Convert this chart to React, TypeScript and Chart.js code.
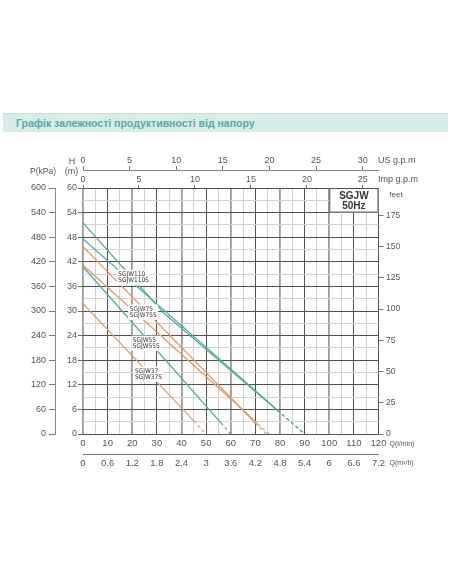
import React, { useEffect, useRef } from "react";
import { Chart, registerables } from "chart.js";
Chart.register(...registerables);

// ---------- data ----------
const titleText = "Графік залежності продуктивності від напору";

// curve points: flow Q (l/min) and head H (m)
const q110 = [0, 33, 79, 90];
const h110 = [51.5, 29.4, 5.7, 0];
const q110S = [0, 79, 90];
const h110S = [47.6, 5.8, 0];
const q75 = [0, 65, 70, 74.5];
const h75 = [45.7, 5.8, 2.6, 0];
const q75S = [0, 66, 71, 75.5];
const h75S = [41.2, 5.3, 2.4, 0];
const q55 = [0, 56, 60];
const h55 = [40.8, 2.7, 0];
const q37 = [0, 45, 50];
const h37 = [31.8, 3.2, 0];

const curveQ = [q110, q110S, q75, q75S, q55, q37];
const curveH = [h110, h110S, h75, h75S, h55, h37];
const curveKind = ["teal", "teal", "orange", "orange", "teal", "orange"];
const curveDashFrom = [79, 79, 70, 71, 56, 45];

const labelTexts = [
  ["SGJW110", "SGJW110S"],
  ["SGJW75", "SGJW75S"],
  ["SGJW55", "SGJW55S"],
  ["SGJW37", "SGJW37S"],
];
const labelQ = [14.3, 19, 20.2, 21.1];
const labelH = [38.95, 30.5, 22.9, 15.4];

const modelBoxText = ["SGJW", "50Hz"];

// axis ranges
const qMax = 120; // l/min
const hMax = 60; // m
const pMax = 600; // kPa
const m3Max = 7.2; // m3/h
const usMax = 120 / 3.785411784;
const impMax = 120 / 4.54609;
const feetMax = 60 * 3.28084;

// ---------- styles ----------
const TEAL = "#48ab9a";
const ORANGE = "#e6975a";
const TXT = "#555";
const DARK = "#505050";
const LIGHT = "#d2d2d2";
const FONT = '"Liberation Sans", Arial, sans-serif';

export default function App() {
  const ref = useRef<HTMLCanvasElement | null>(null);

  useEffect(() => {
    if (!ref.current) return;
    Chart.defaults.font.family = FONT;
    Chart.defaults.color = TXT;

    const datasets = curveQ.map((qs, i) => ({
      label: String(i),
      data: qs.map((q, j) => ({ x: q, y: curveH[i][j] })),
      borderColor: curveKind[i] === "teal" ? TEAL : ORANGE,
      borderWidth: 1.2,
      pointRadius: 0,
      tension: 0,
      fill: false,
      xAxisID: "x",
      yAxisID: "y",
      segment: {
        borderDash: (ctx: any) =>
          ctx.p0.parsed.x >= curveDashFrom[i] - 0.01 ? [3, 3] : undefined,
      },
    }));

    const overlay = {
      id: "overlay",
      afterDatasetsDraw(chart: any) {
        const c = chart.ctx;
        const xs = chart.scales.x;
        const ys = chart.scales.y;
        c.save();
        // curve labels with white boxes
        c.font = `6.5px "Liberation Sans Narrow", "DejaVu Sans Condensed", ${FONT}`;
        c.textBaseline = "middle";
        c.textAlign = "left";
        labelTexts.forEach((lines, i) => {
          const px = xs.getPixelForValue(labelQ[i]);
          const py = ys.getPixelForValue(labelH[i]);
          const w = Math.max(...lines.map((t) => c.measureText(t).width));
          c.fillStyle = "#fff";
          c.fillRect(px - 1.5, py - 4.5, w + 3, 6.5 * lines.length + 2.5);
          c.fillStyle = "#333";
          lines.forEach((t, j) => c.fillText(t, px, py + j * 6.5));
        });
        // model box
        const bx0 = xs.getPixelForValue(100);
        const bx1 = xs.getPixelForValue(120);
        const by0 = ys.getPixelForValue(60);
        const by1 = ys.getPixelForValue(54);
        c.fillStyle = "#fff";
        c.fillRect(bx0, by0, bx1 - bx0, by1 - by0);
        c.strokeStyle = DARK;
        c.lineWidth = 1;
        c.strokeRect(bx0 + 0.5, by0 + 0.5, bx1 - bx0 - 1, by1 - by0 - 1);
        c.fillStyle = "#333";
        c.font = `bold 10px ${FONT}`;
        c.textAlign = "center";
        const bcx = (bx0 + bx1) / 2;
        c.fillText(modelBoxText[0], bcx, by0 + 8.5);
        c.fillText(modelBoxText[1], bcx, by0 + 18.5);
        c.restore();
      },
      afterDraw(chart: any) {
        const c = chart.ctx;
        const a = chart.chartArea;
        const s = chart.scales;
        c.save();
        c.fillStyle = TXT;
        c.textBaseline = "middle";
        c.font = `9px ${FONT}`;
        c.textAlign = "left";
        c.fillText("US g.p.m", a.right - 0.5, s.xUS.bottom - 9);
        c.fillText("Imp g.p.m", a.right - 0.5, s.xImp.bottom - 8.5);
        c.textAlign = "center";
        c.fillText("H", s.y.left + 17, s.xUS.bottom - 8);
        c.fillText("(m)", s.y.left + 16.5, s.xUS.bottom + 1.5);
        c.font = `8.5px ${FONT}`;
        c.fillText("P(kPa)", s.yP.right - 12, s.xUS.bottom + 1.5);
        c.font = `8px ${FONT}`;
        c.fillText("feet", a.right + 17.5, a.top + 6.5);
        c.font = `7px ${FONT}`;
        c.textAlign = "left";
        c.fillText("Q(l/min)", a.right + 11, a.bottom + 10);
        c.fillText("Q(m³/h)", a.right + 11, s.xM3.top + 9.5);
        c.restore();
      },
    };

    const gridX = (ctx: any) => {
      const v = ctx.tick ? ctx.tick.value : 0;
      if (v === 120) return DARK;
      if (v % 20 === 0) return "#9a9a9a";
      if (v % 10 === 0) return DARK;
      return LIGHT;
    };
    const gridXW = (ctx: any) => {
      const v = ctx.tick ? ctx.tick.value : 0;
      if (v !== 120 && v % 20 === 0) return 1.8;
      return 1;
    };

    const chart = new Chart(ref.current, {
      type: "line",
      data: { datasets },
      plugins: [overlay],
      options: {
        animation: false,
        responsive: false,
        devicePixelRatio: 1,
        layout: { padding: { left: 0, right: 0, top: 150, bottom: 110 } },
        plugins: { legend: { display: false }, tooltip: { enabled: false } },
        scales: {
          x: {
            type: "linear",
            position: "bottom",
            weight: 1,
            min: 0,
            max: qMax,
            ticks: {
              stepSize: 5,
              autoSkip: false,
              maxRotation: 0,
              padding: 4,
              font: { size: 9.5 },
              callback: (v: any) => (v % 10 === 0 ? String(v) : ""),
            },
            grid: { color: gridX, lineWidth: gridXW, drawTicks: false },
            border: { display: false },
            afterFit: (sc: any) => {
              sc.height = 20;
            },
          },
          xM3: {
            type: "linear",
            position: "bottom",
            weight: 2,
            min: 0,
            max: m3Max,
            ticks: {
              stepSize: 0.6,
              autoSkip: false,
              maxRotation: 0,
              padding: 1,
              font: { size: 9.5 },
              callback: (v: any) => String(Number(Number(v).toFixed(1))),
            },
            grid: { drawOnChartArea: false, tickLength: 3, tickColor: "transparent" },
            border: { display: true, color: "#777" },
            afterFit: (sc: any) => {
              sc.height = 20;
            },
          },
          xImp: {
            type: "linear",
            position: "top",
            weight: 1,
            min: 0,
            max: impMax,
            ticks: { stepSize: 5, autoSkip: false, includeBounds: false, maxRotation: 0, padding: 0, font: { size: 9 } },
            grid: { drawOnChartArea: false, tickLength: 3, tickColor: "#777" },
            border: { display: false },
            afterFit: (sc: any) => {
              sc.height = 18;
            },
          },
          xUS: {
            type: "linear",
            position: "top",
            weight: 2,
            min: 0,
            max: usMax,
            ticks: { stepSize: 5, autoSkip: false, includeBounds: false, maxRotation: 0, padding: 0, font: { size: 9 } },
            grid: { drawOnChartArea: false, tickLength: 4, tickColor: "#777" },
            border: { display: true, color: "#888" },
            afterFit: (sc: any) => {
              sc.height = 20;
            },
          },
          y: {
            type: "linear",
            position: "left",
            weight: 1,
            min: 0,
            max: hMax,
            ticks: {
              stepSize: 3,
              autoSkip: false,
              padding: 1,
              font: { size: 9 },
              callback: (v: any) => (v % 6 === 0 ? String(v) : ""),
            },
            grid: {
              color: (ctx: any) => (ctx.tick && ctx.tick.value % 6 === 0 ? DARK : LIGHT),
              tickLength: 5,
              tickColor: (ctx: any) => (ctx.tick && ctx.tick.value % 6 === 0 ? "#666" : "transparent"),
            },
            border: { display: false },
            afterFit: (sc: any) => {
              sc.width = 28;
            },
          },
          yP: {
            type: "linear",
            position: "left",
            weight: 2,
            min: 0,
            max: pMax,
            ticks: { stepSize: 60, autoSkip: false, padding: 3, font: { size: 9 } },
            grid: { drawOnChartArea: false, tickLength: 6, tickColor: "#777" },
            border: { display: true, color: "#888" },
            afterFit: (sc: any) => {
              sc.width = 55;
            },
          },
          yFeet: {
            type: "linear",
            position: "right",
            weight: 1,
            min: 0,
            max: feetMax,
            ticks: { stepSize: 25, autoSkip: false, includeBounds: false, padding: 2.5, font: { size: 8.5 } },
            grid: { drawOnChartArea: false, tickLength: 5, tickColor: "#777" },
            border: { display: false },
            afterFit: (sc: any) => {
              sc.width = 73.5;
            },
          },
        },
      } as any,
    });
    return () => chart.destroy();
  }, []);

  return (
    <div style={{ position: "absolute", left: 0, top: 0, width: 452, height: 584, background: "#fff" }}>
      <div
        style={{
          position: "absolute",
          left: 3,
          top: 113,
          width: 445,
          height: 19,
          background: "#d7edea",
          borderTop: "1px solid #cfdcda",
          boxSizing: "border-box",
          color: "#4eaca2",
          font: `bold 10.5px ${FONT}`,
          lineHeight: "18px",
          paddingLeft: 13,
          whiteSpace: "nowrap",
        }}
      >
        {titleText}
      </div>
      <canvas ref={ref} width={452} height={584} style={{ position: "absolute", left: 0, top: 0, display: "block" }} />
    </div>
  );
}
